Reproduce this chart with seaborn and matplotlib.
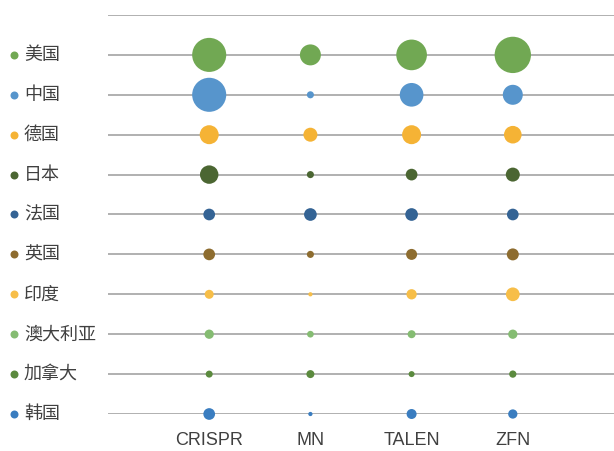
import matplotlib
matplotlib.use("Agg")
import matplotlib.pyplot as plt
import matplotlib.transforms as mtransforms
import numpy as np
import pandas as pd
import seaborn as sns

# Gene-editing technologies and countries
methods = ["CRISPR", "MN", "TALEN", "ZFN"]
countries = ["美国", "中国", "德国", "日本", "法国", "英国", "印度", "澳大利亚", "加拿大", "韩国"]

# Bubble values per country (order follows `methods`)
v_us = [1160, 440, 940, 1320]
v_cn = [1160, 50, 560, 400]
v_de = [360, 196, 360, 310]
v_jp = [340, 50, 137, 196]
v_fr = [137, 161, 161, 137]
v_uk = [137, 50, 121, 144]
v_in = [81, 18, 106, 188]
v_au = [86, 45, 64, 86]
v_ca = [49, 64, 36, 53]
v_kr = [137, 18, 100, 86]

country_colors = ["#71A853", "#5795CC", "#F5B335", "#4B6632", "#346394",
                  "#8D6C2F", "#F7BE48", "#85BC72", "#5B8A3E", "#3A7DC0"]

values = [v_us, v_cn, v_de, v_jp, v_fr, v_uk, v_in, v_au, v_ca, v_kr]

rows = []
n = len(countries)
for i, (c, vals) in enumerate(zip(countries, values)):
    for j, (m, v) in enumerate(zip(methods, vals)):
        rows.append({"country": c, "method": m, "x": j + 1, "y": n - i, "value": v})
df = pd.DataFrame(rows)

sns.set_theme(style="white")
plt.rcParams["font.family"] = ["Liberation Sans", "Noto Sans CJK SC", "DejaVu Sans"]

W, H, DPI = 614, 451, 100
fig = plt.figure(figsize=(W / DPI, H / DPI), dpi=DPI)
ax = fig.add_axes([108 / W, 1 - 414 / H, 1 - 108 / W, (414 - 15) / H])

# horizontal guide lines, one per row plus one on top
for yv in range(1, n + 2):
    ax.axhline(yv, color="#a3a3a3", lw=1.2, zorder=1)

# area-proportional bubbles: marker diameter in px ~ sqrt(value)
px_to_pt = 72 / DPI
vmax = df["value"].max()
palette = dict(zip(countries, country_colors))
sns.scatterplot(data=df, x="x", y="y", hue="country", palette=palette,
                size="value", size_norm=(0, vmax), sizes=(0, vmax * px_to_pt ** 2),
                linewidth=0, legend=False, ax=ax, zorder=3, clip_on=False)

ax.set_xlim(0, 5)
ax.set_ylim(1, n + 1)
ax.set_xticks(range(1, len(methods) + 1))
ax.set_xticklabels(methods, fontsize=13, color="#404040")
ax.set_yticks([])
ax.tick_params(axis="x", length=0, pad=13)
ax.set_xlabel("")
ax.set_ylabel("")
for s in ax.spines.values():
    s.set_visible(False)

# country key on the left, aligned with each row
trans = mtransforms.blended_transform_factory(fig.transFigure, ax.transData)
for i, (c, col) in enumerate(zip(countries, country_colors)):
    yv = n - i
    ax.scatter([14 / W], [yv], s=(8 * px_to_pt) ** 2, color=col, linewidth=0,
               transform=trans, clip_on=False)
    ax.text(24 / W, yv, c, transform=trans, ha="left", va="center",
            fontsize=13, color="#404040", family=["Noto Sans CJK SC", "DejaVu Sans"])

fig.savefig("out.png", dpi=DPI)
